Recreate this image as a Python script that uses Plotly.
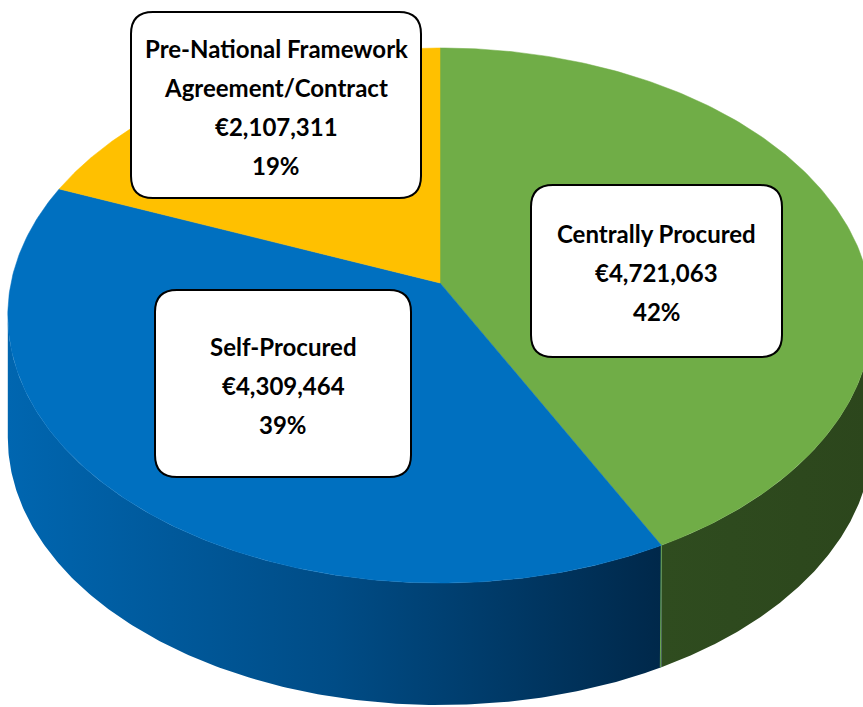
import math
import plotly.graph_objects as go

# ---- data ----
categories = ["Centrally Procured", "Self-Procured", "Pre-National Framework Agreement/Contract"]
label_lines = [["Centrally Procured"], ["Self-Procured"], ["Pre-National Framework", "Agreement/Contract"]]
values = [4721063, 4309464, 2107311]

# ---- styles ----
top_colors = ["#70AD47", "#0070C0", "#FFC000"]
side_scales = [
    [[0, "#2f4c1f"], [1, "#2c461c"]],
    [[0, "#0066b0"], [0.5, "#004c86"], [1, "#00284a"]],
    [[0, "#b08400"], [1, "#8a6700"]],
]
# label boxes in page-pixel coordinates (x0, y0, x1, y1)
label_boxes = [(531, 185, 782, 357), (155, 290, 411, 477), (131, 12, 421, 198)]

W, H = 863, 707
CX, CY = 440.0, 283.0      # projected pie centre
KX, KY = 429.0, 263.6      # horizontal / vertical radii
P = 0.1215                 # perspective factor
DEPTH = 122.0              # thickness of the pie


def proj(theta_deg, r=1.0):
    t = math.radians(theta_deg)
    w = 1 + P * r * math.cos(t)
    return CX + KX * r * math.sin(t) / w, CY - KY * r * math.cos(t) / w


def arc(a0, a1, n=200):
    pts = [proj(a0 + (a1 - a0) * i / n) for i in range(n + 1)]
    return [p[0] for p in pts], [p[1] for p in pts]


total = sum(values)
fracs = [v / total for v in values]
starts, a = [], 0.0
for f in fracs:
    starts.append(a)
    a += f * 360
ends = [s + f * 360 for s, f in zip(starts, fracs)]

th_right = math.degrees(math.acos(-P))
th_left = 360 - th_right

fig = go.Figure()

# side walls
for i in range(len(values)):
    lo = max(starts[i], th_right)
    hi = min(ends[i], th_left)
    if hi <= lo:
        continue
    xs, ys = arc(lo, hi)
    px = xs + xs[::-1] + [xs[0]]
    py = ys + [y + DEPTH for y in ys[::-1]] + [ys[0]]
    fig.add_trace(go.Scatter(
        x=px, y=py, mode="lines", fill="toself",
        line=dict(width=0, color=side_scales[i][0][1]),
        fillgradient=dict(type="horizontal", colorscale=side_scales[i]),
        hoverinfo="skip", showlegend=False))

# thin highlight on vertical edge between visible side walls
for i in range(len(values)):
    e = ends[i]
    if th_right < e < th_left:
        x0, y0 = proj(e)
        fig.add_trace(go.Scatter(x=[x0, x0 - 1], y=[y0, y0 + DEPTH], mode="lines",
                                 line=dict(color="#6aa84f", width=1),
                                 hoverinfo="skip", showlegend=False))

# top faces
for i in range(len(values)):
    xs, ys = arc(starts[i], ends[i])
    fig.add_trace(go.Scatter(
        x=[CX] + xs + [CX], y=[CY] + ys + [CY], mode="lines", fill="toself",
        fillcolor=top_colors[i], line=dict(width=0.5, color=top_colors[i]),
        hoverinfo="skip", showlegend=False))


def rounded(x0, y0, x1, y1, r):
    return (f"M{x0+r},{y0} L{x1-r},{y0} Q{x1},{y0} {x1},{y0+r} L{x1},{y1-r} "
            f"Q{x1},{y1} {x1-r},{y1} L{x0+r},{y1} Q{x0},{y1} {x0},{y1-r} "
            f"L{x0},{y0+r} Q{x0},{y0} {x0+r},{y0} Z")


shapes, annotations = [], []
FONT = dict(family="Lato", size=24, color="#000000")
SPACING = 39
for i in range(len(values)):
    x0, y0, x1, y1 = label_boxes[i]
    shapes.append(dict(type="path", path=rounded(x0, y0, x1, y1, 22), xref="x", yref="y",
                       fillcolor="white", line=dict(color="black", width=2), layer="above"))
    lines = label_lines[i] + [f"€{values[i]:,}", f"{round(fracs[i]*100)}%"]
    cx, cy = (x0 + x1) / 2, (y0 + y1) / 2 + 1.5
    n = len(lines)
    for j, t in enumerate(lines):
        annotations.append(dict(x=cx, y=cy + (j - (n - 1) / 2) * SPACING, xref="x", yref="y",
                                text=f"<b>{t}</b>", showarrow=False, font=FONT,
                                xanchor="center", yanchor="middle"))

fig.update_layout(
    width=W, height=H, margin=dict(l=0, r=0, t=0, b=0),
    paper_bgcolor="white", plot_bgcolor="white",
    xaxis=dict(range=[0, W], visible=False, fixedrange=True),
    yaxis=dict(range=[H, 0], visible=False, fixedrange=True),
    shapes=shapes, annotations=annotations, showlegend=False,
)

# remove the default page margin so the figure fills the window exactly
js = "document.body.style.margin='0';document.body.style.overflow='hidden';"
fig.write_html("out.html", post_script=js, config={"displayModeBar": False})
